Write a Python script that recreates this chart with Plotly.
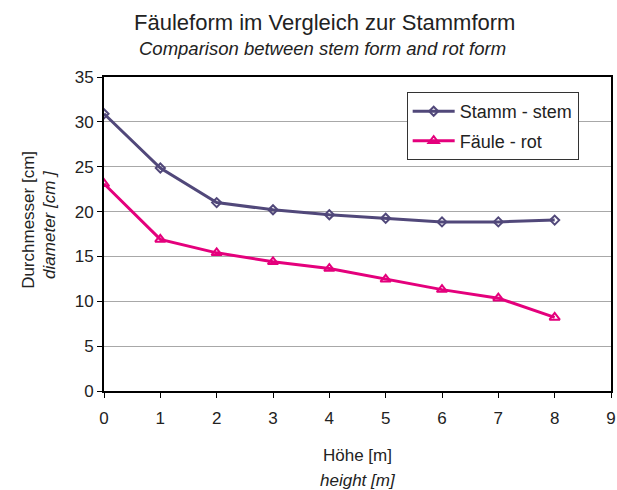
import plotly.graph_objects as go

hoehe = [0, 1, 2, 3, 4, 5, 6, 7, 8]
stamm = [30.9, 24.85, 21.0, 20.2, 19.65, 19.25, 18.85, 18.85, 19.05]
faeule = [23.1, 16.9, 15.4, 14.4, 13.65, 12.45, 11.3, 10.35, 8.2]

font = "Liberation Sans, Arial, sans-serif"

data = [
    go.Scatter(x=hoehe, y=stamm, name='Stamm - stem', mode='lines+markers', legendgroup='a',
               line=dict(color='#51487a', width=3),
               marker=dict(symbol='diamond-open', size=7, color='#51487a', line=dict(width=2))),
    go.Scatter(x=hoehe, y=faeule, name='Fäule - rot', mode='lines+markers', legendgroup='b',
               line=dict(color='#e4007c', width=3),
               marker=dict(symbol='triangle-up-open', size=9, color='#e4007c', line=dict(width=2))),
]

axis_common = dict(showline=True, linecolor='black', linewidth=2, mirror=True,
                   ticks='outside', ticklen=5, tickcolor='black',
                   tickfont=dict(size=17, color='#222'), zeroline=False)

layout = go.Layout(
    width=617, height=490,
    margin=dict(l=104, r=6, t=77, b=99, autoexpand=False),
    paper_bgcolor='white', plot_bgcolor='white',
    font=dict(family=font, color='#222'),
    xaxis=dict(range=[0, 9], dtick=1, showgrid=False, ticklabelstandoff=6,
               ticklabeloverflow='allow', **axis_common),
    yaxis=dict(range=[0, 35], dtick=5, showgrid=True, gridcolor='#a8a8a8', gridwidth=1,
               **axis_common),
    legend=dict(x=0.597, y=0.952, xanchor='left', yanchor='top',
                bgcolor='white', bordercolor='#333', borderwidth=1, itemwidth=42,
                font=dict(size=18, color='#222'), tracegroupgap=3),
    annotations=[
        dict(text='Fäuleform im Vergleich zur Stammform', x=0.434, y=1.175,
             font=dict(size=22)),
        dict(text='<i>Comparison between stem form and rot form</i>', x=0.431, y=1.092,
             font=dict(size=18.5)),
        dict(text='Durchmesser [cm]', x=0, y=0.545, xshift=-75, textangle=-90,
             font=dict(size=17)),
        dict(text='<i>diameter [cm ]</i>', x=0, y=0.529, xshift=-54, textangle=-90,
             font=dict(size=17)),
        dict(text='Höhe [m]', x=0.5, y=0, yshift=-64, font=dict(size=17)),
        dict(text='<i>height [m]</i>', x=0.5, y=0, yshift=-89, font=dict(size=17)),
    ],
)

fig = go.Figure(data=data, layout=layout)
fig.update_annotations(xref='paper', yref='paper', showarrow=False,
                       xanchor='center', yanchor='middle')
# drop the default 8px body margin so the figure fills the window exactly
fig.write_html("out.html", config={'displayModeBar': False},
               post_script="document.body.style.margin='0';")
